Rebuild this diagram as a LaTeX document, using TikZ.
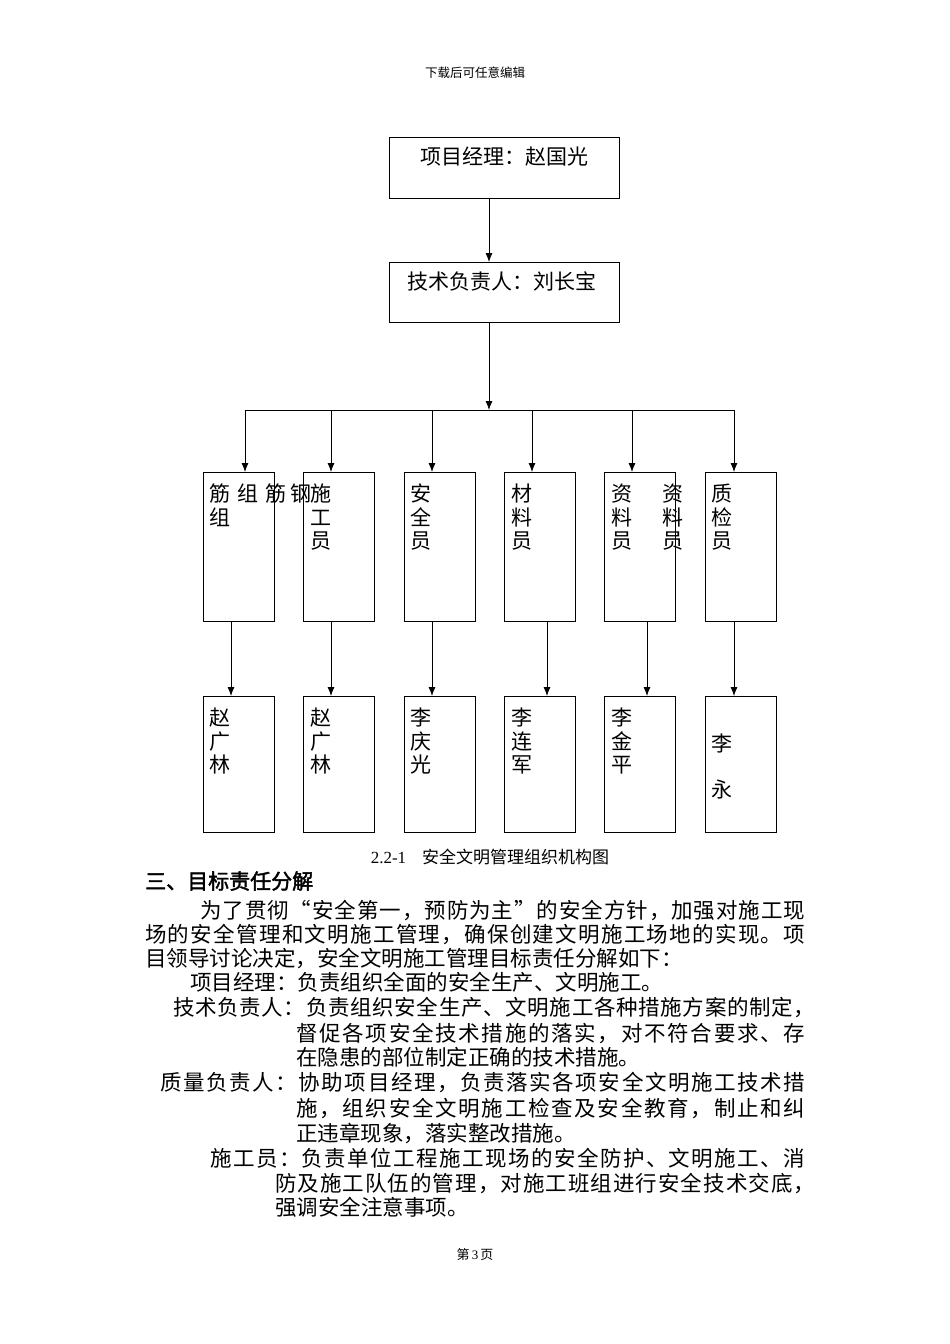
\documentclass[tikz,border=0pt]{standalone}
\usepackage{fontspec}
\usetikzlibrary{arrows.meta}
\setmainfont{Liberation Serif}
\newfontfamily\cjk{Noto Sans CJK SC}[AutoFakeBold=2]
\def\jsp#1{\ifx\relax#1\else#1\hskip 0pt plus 1fil\expandafter\jsp\fi}
\newcommand\jl[2]{\hbox to #1{\jsp#2\relax\unskip}}
\begin{document}
\begin{tikzpicture}[x=1pt,y=-1pt,
  bx/.style={draw,line width=0.8pt,inner sep=0},
  ar/.style={line width=0.8pt,-{Latex[length=9pt,width=7pt]}},
  ln/.style={line width=0.8pt},
  bt/.style={font=\cjk\fontsize{21}{23.5}\selectfont,anchor=north west,inner sep=0,align=left},
  tx/.style={font=\cjk\fontsize{21.5}{24}\selectfont,anchor=base west,inner sep=0}]
\useasboundingbox (0,0) rectangle (950,1344);
\node[font=\cjk\fontsize{12.5}{13}\selectfont] (hd) at (475,73) {下载后可任意编辑};
\node[bx,minimum width=230,minimum height=61] (pm) at (504,167.5) {};
\node[font=\cjk\fontsize{21}{23}\selectfont] (pmt) at (504,157) {项目经理：赵国光};
\node[bx,minimum width=230,minimum height=60] (te) at (504,292) {};
\node[font=\cjk\fontsize{21}{23}\selectfont] (tet) at (502,281) {技术负责人：刘长宝};
\coordinate (pmb) at (489,198);
\coordinate (tet0) at (489,262);
\coordinate (teb) at (489,322);
\draw[ar] (pmb) -- (tet0);
\coordinate (bus) at (489,410);
\draw[ar] (teb) -- (bus);
\draw[ln] (245,410) -- (734,410);
\foreach \i/\xl/\ax/\dx in {1/203/245/231,2/303/331/331,3/404/432/432,4/504/532/547,5/604/632/647,6/705/734/734}{
  \node[bx,minimum width=71,minimum height=149,anchor=north west] (a\i) at (\xl,472) {};
  \node[bx,minimum width=71,minimum height=136,anchor=north west] (b\i) at (\xl,696) {};
  \coordinate (t\i) at (\ax,410);
  \draw[ar] (t\i) -- (\ax,472);
  \draw[ar] (\dx,621) -- (\dx,696);
}
\node[bt] (l1) at (209,484) {筋\hspace{7pt}组\hspace{7pt}筋\hspace{4pt}钢\\组};
\node[bt] (l2) at (310,484) {施\\工\\员};
\node[bt] (l3) at (410,484) {安\\全\\员};
\node[bt] (l4) at (511,484) {材\\料\\员};
\node[bt] (l5) at (611,484) {资\\料\\员};
\node[bt] (l5b) at (662,484) {资\\料\\员};
\node[bt] (l6) at (711,484) {质\\检\\员};
\node[bt] (m1) at (209,708) {赵\\广\\林};
\node[bt] (m2) at (310,708) {赵\\广\\林};
\node[bt] (m3) at (410,708) {李\\庆\\光};
\node[bt] (m4) at (511,708) {李\\连\\军};
\node[bt] (m5) at (611,708) {李\\金\\平};
\node[bt,font=\cjk\fontsize{21}{46}\selectfont] (m6) at (711,734) {李\\永};
\node[font=\fontsize{17}{18}\selectfont] (cap) at (490,857) {2.2-1\hspace{16pt}{\cjk 安全文明管理组织机构图}};
\node[font=\cjk\bfseries\fontsize{21}{22}\selectfont,anchor=base west,inner sep=0] (h3) at (145,889) {三、目标责任分解};
\node[tx] (p1) at (200,918) {\jl{605pt}{为了贯彻“安全第一，预防为主”的安全方针，加强对施工现}};
\node[tx] (p2) at (145,942) {\jl{660pt}{场的安全管理和文明施工管理，确保创建文明施工场地的实现。项}};
\node[tx] (p3) at (145,966) {目领导讨论决定，安全文明施工管理目标责任分解如下：};
\node[tx] (p4) at (190,990) {项目经理：负责组织全面的安全生产、文明施工。};
\node[tx] (p5) at (173,1015) {\jl{642pt}{技术负责人：负责组织安全生产、文明施工各种措施方案的制定，}};
\node[tx] (p6) at (296,1041) {\jl{509pt}{督促各项安全技术措施的落实，对不符合要求、存}};
\node[tx] (p7) at (296,1065) {在隐患的部位制定正确的技术措施。};
\node[tx] (p8) at (160,1090) {\jl{645pt}{质量负责人：协助项目经理，负责落实各项安全文明施工技术措}};
\node[tx] (p9) at (296,1116) {\jl{509pt}{施，组织安全文明施工检查及安全教育，制止和纠}};
\node[tx] (p10) at (296,1141) {正违章现象，落实整改措施。};
\node[tx] (p11) at (210,1166) {\jl{595pt}{施工员：负责单位工程施工现场的安全防护、文明施工、消}};
\node[tx] (p12) at (275,1191) {\jl{540pt}{防及施工队伍的管理，对施工班组进行安全技术交底，}};
\node[tx] (p13) at (275,1215) {强调安全注意事项。};
\node[font=\fontsize{13}{14}\selectfont] (ft) at (475,1255) {{\cjk 第}\,3\,{\cjk 页}};
\end{tikzpicture}
\end{document}
